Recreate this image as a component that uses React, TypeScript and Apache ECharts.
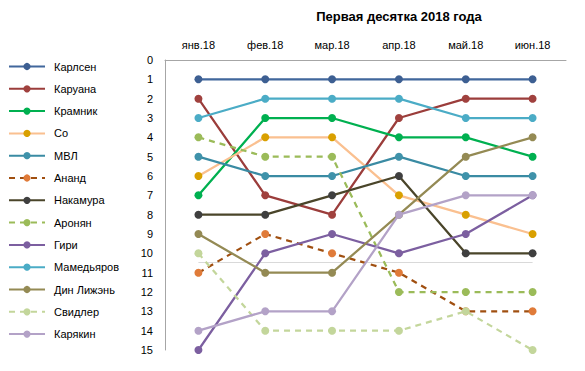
import React, { useEffect, useRef } from "react";
import * as echarts from "echarts";

const months = ["янв.18", "фев.18", "мар.18", "апр.18", "май.18", "июн.18"];
const yTicks = [0, 15];

const names = [
  "Карлсен", "Каруана", "Крамник", "Со", "МВЛ", "Ананд", "Накамура",
  "Аронян", "Гири", "Мамедьяров", "Дин Лижэнь", "Свидлер", "Карякин",
];

const carlsen = [1, 1, 1, 1, 1, 1];
const caruana = [2, 7, 8, 3, 2, 2];
const kramnik = [7, 3, 3, 4, 4, 5];
const so = [6, 4, 4, 7, 8, 9];
const mvl = [5, 6, 6, 5, 6, 6];
const anand = [11, 9, 10, 11, 13, 13];
const nakamura = [8, 8, 7, 6, 10, 10];
const aronian = [4, 5, 5, 12, 12, 12];
const giri = [15, 10, 9, 10, 9, 7];
const mamedyarov = [3, 2, 2, 2, 3, 3];
const ding = [9, 11, 11, 8, 5, 4];
const svidler = [10, 14, 14, 14, 13, 15];
const karjakin = [14, 13, 13, 8, 7, 7];

const values = [carlsen, caruana, kramnik, so, mvl, anand, nakamura, aronian, giri, mamedyarov, ding, svidler, karjakin];
const lineColors = ["#41679C", "#9B3D3B", "#00B050", "#FAC090", "#3A8BA3", "#A04F10", "#4A452A", "#9BBB59", "#7C5FA0", "#4BACC6", "#948A54", "#C3D69B", "#B3A2C7"];
const markerColors = ["#3D5F92", "#A0413E", "#00B050", "#D9A000", "#3F92AA", "#E07B39", "#3F3F3F", "#9BBB59", "#7C5FA0", "#4BACC6", "#948A54", "#C3D69B", "#B3A2C7"];
const dashed = [false, false, false, false, false, true, false, true, false, false, false, true, false];

const FONT = "Liberation Sans";

export default function App() {
  const ref = useRef<HTMLDivElement>(null);
  useEffect(() => {
    const chart = echarts.init(ref.current!, undefined, { renderer: "svg" });
    const series: any[] = names.map((n, i) => ({
      name: n,
      type: "line",
      data: values[i],
      symbol: "circle",
      symbolSize: 8,
      lineStyle: { color: lineColors[i], width: 2.25, type: dashed[i] ? [6, 5] : "solid" },
      itemStyle: { color: markerColors[i] },
      z: 2 + i,
    }));
    series.push({
      name: "_grid",
      type: "line",
      data: [],
      silent: true,
      markLine: {
        symbol: "none",
        silent: true,
        label: { show: false },
        lineStyle: { color: "#D9D9D9", width: 1, type: "solid" },
        data: [[{ coord: [0, 10.45] }, { coord: [5, 10.45] }]],
      },
      z: 1,
    });
    chart.setOption({
      animation: false,
      title: {
        text: "Первая десятка 2018 года",
        left: 394,
        top: 5,
        textAlign: "center",
        textStyle: { fontFamily: FONT, fontSize: 13, fontWeight: "bold", color: "#000" },
      },
      legend: {
        orient: "vertical",
        left: 8,
        top: 61,
        height: 320,
        padding: 0,
        itemWidth: 36,
        itemHeight: 9,
        itemGap: 11.3,
        data: names,
        textStyle: { fontFamily: FONT, fontSize: 11, color: "#000", lineHeight: 9, padding: [0, 0, 0, 4] },
      },
      grid: { left: 165, right: 19, top: 60, bottom: 21 },
      xAxis: {
        type: "category",
        position: "top",
        data: months,
        boundaryGap: true,
        axisLine: { show: true, lineStyle: { color: "#A6A6A6" } },
        axisTick: { show: false },
        axisLabel: { fontFamily: FONT, fontSize: 11, color: "#000", margin: 10 },
      },
      yAxis: {
        type: "value",
        inverse: true,
        min: yTicks[0],
        max: yTicks[1],
        interval: 1,
        splitLine: { show: false },
        axisLine: { show: true, lineStyle: { color: "#A6A6A6" } },
        axisTick: { show: false },
        axisLabel: { fontFamily: FONT, fontSize: 11, color: "#000", margin: 12 },
      },
      series,
    });
    return () => chart.dispose();
  }, []);
  return <div ref={ref} style={{ width: 585, height: 371, position: "absolute", left: 0, top: 0 }} />;
}
